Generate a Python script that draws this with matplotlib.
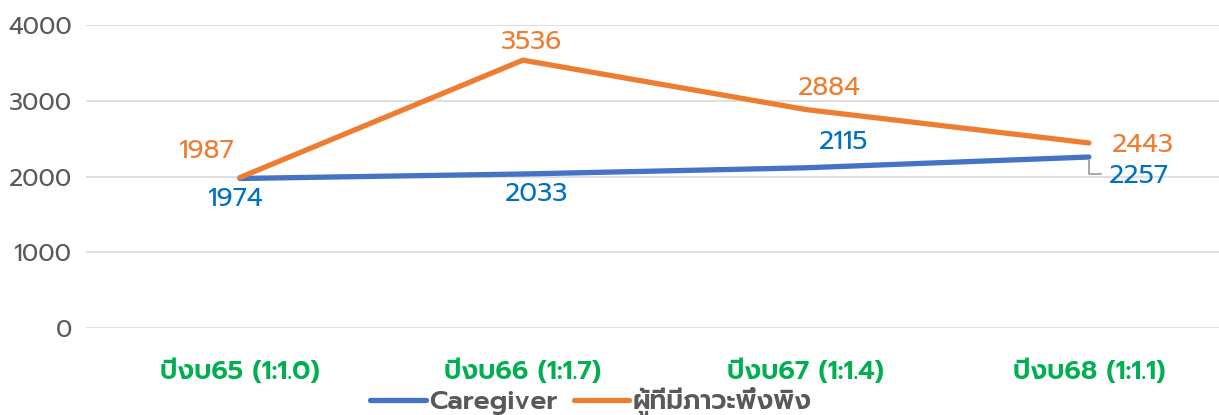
import matplotlib
matplotlib.use("Agg")
import matplotlib.pyplot as plt
from matplotlib.lines import Line2D

categories = ["ปีงบ65 (1:1.0)", "ปีงบ66 (1:1.7)", "ปีงบ67 (1:1.4)", "ปีงบ68 (1:1.1)"]
caregiver = [1974, 2033, 2115, 2257]
dependent = [1987, 3536, 2884, 2443]
series_names = ["Caregiver", "ผู้ที่มีภาวะพึ่งพิง"]
yticks = [0, 1000, 2000, 3000, 4000]

FAM = ["Prompt", "DejaVu Sans"]
plt.rcParams["font.family"] = FAM

BLUE = "#4472C4"
ORANGE = "#ED7D31"
BLUE_T = "#0070C0"
GREEN = "#00B050"
GREY = "#595959"

fig = plt.figure(figsize=(12.19, 4.15), dpi=100)
ax = fig.add_axes([86/1219, 1-328/415, (1219-86)/1219, (328-25)/415])

x = list(range(len(categories)))
ax.plot(x, caregiver, color=BLUE, lw=3.8, solid_capstyle="round", zorder=3)
ax.plot(x, dependent, color=ORANGE, lw=3.8, solid_capstyle="round", zorder=3)

ax.set_xlim(-0.544, 3.46)
ax.set_ylim(0, 4000)
ax.set_yticks(yticks)
ax.set_yticklabels([str(v) for v in yticks], color=GREY, fontsize=17.5)
ax.grid(axis="y", color="#D9D9D9", lw=1.2)
ax.set_axisbelow(True)
ax.tick_params(axis="y", length=0, pad=10)
ax.set_xticks(x)
ax.set_xticklabels(categories, color=GREEN, fontsize=19, fontweight="semibold")
ax.tick_params(axis="x", length=0, pad=23)
for s in ax.spines.values():
    s.set_visible(False)

lab = dict(fontsize=19, ha="center", va="center", fontweight="normal")
off_o = [(-24, 18.5), (6, 13), (17, 15), (39, -1.5)]
off_b = [(-3, -15.5), (10, -14.5), (27, 18.5), (36, -14)]
for i in x:
    ax.annotate(str(dependent[i]), (i, dependent[i]), xytext=off_o[i], textcoords="offset points",
                color=ORANGE, **lab)
    ax.annotate(str(caregiver[i]), (i, caregiver[i]), xytext=off_b[i], textcoords="offset points",
                color=BLUE_T, **lab)
ax.annotate("", (3, caregiver[3]), xytext=(9, -12.5), textcoords="offset points",
            arrowprops=dict(arrowstyle="-", color="#A6A6A6", lw=1.4,
                            connectionstyle="angle,angleA=0,angleB=90,rad=0",
                            shrinkA=0, shrinkB=2))

handles = [Line2D([], [], color=BLUE, lw=3.8, solid_capstyle="round"),
           Line2D([], [], color=ORANGE, lw=3.8, solid_capstyle="round")]
leg = fig.legend(handles, series_names, loc="center", bbox_to_anchor=(591/1219, 1-402/415),
                 ncol=2, frameon=False, handlelength=2.1, handletextpad=0.15, columnspacing=0.6,
                 borderpad=0, prop=dict(family=FAM, size=19, weight="semibold"))
for t in leg.get_texts():
    t.set_color(GREY)

fig.savefig("out.png", dpi=100)
